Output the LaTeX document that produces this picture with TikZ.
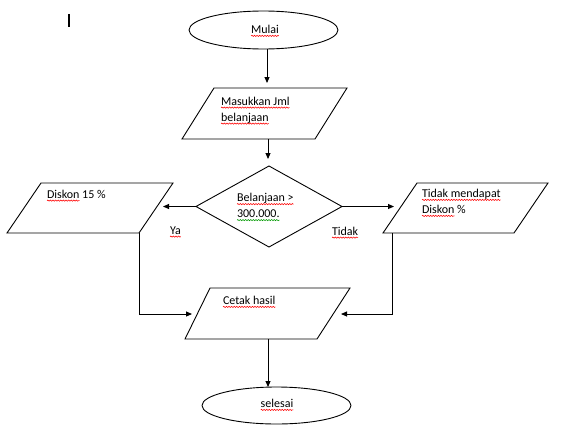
\documentclass[tikz,border=0pt]{standalone}
\usepackage{fontspec}
\setmainfont{Carlito}
\usetikzlibrary{shapes.geometric,arrows.meta,decorations.pathmorphing}
\newcommand\lblfont{\fontsize{12}{16}\selectfont}
% word widths, measured once the fonts are ready
\newcommand\mkw[2]{\expandafter\newlength\csname sqw#1\endcsname
  \settowidth{\csname sqw#1\endcsname}{\lblfont #2}}
\AtBeginDocument{%
  \mkw{masuk}{Masukkan Jml}\mkw{belj}{belanjaan}%
  \mkw{bel}{Belanjaan >}\mkw{num}{300.000.}\mkw{disk}{Diskon}%
  \mkw{tdm}{Tidak mendapat}}
\tikzset{sq/.style={line width=0.55pt,decorate,decoration={snake,amplitude=0.6pt,segment length=2.6pt}}}
% squiggle under a word: colour, x, baseline y, width name
\newcommand\squig[4]{%
  \draw[#1,sq] (#2,#3+2.6) -- ++(\the\csname sqw#4\endcsname,0);}
% squiggle under a whole one-line node
\newcommand\squign[2]{%
  \draw[#1,sq] ([yshift=-2.6pt]#2.base west) -- ([yshift=-2.6pt]#2.base east);}
\begin{document}
\begin{tikzpicture}[x=1pt,y=-1pt,
  every node/.style={inner sep=0pt,outer sep=0pt},
  shp/.style={draw=black,line width=0.9pt},
  term/.style={shp,ellipse,minimum width=149pt,minimum height=38pt},
  dec/.style={shp,diamond,minimum width=146pt,minimum height=81pt},
  io/.style={shp,line join=miter},
  arr/.style={draw=black,line width=0.9pt,-{Triangle[length=6pt,width=5pt]}},
  txt/.style={font=\lblfont,align=left}]
\useasboundingbox (0,0) rectangle (561,436);
% text cursor mark
\draw[line width=1.8pt] (69,14) -- (69,27);

% Mulai
\node[term] (start) at (263.5,30) {};
\node[txt,anchor=base] (tstart) at (265,33.3) {Mulai};

% input
\coordinate (inTL) at (214,88);
\coordinate (inTR) at (347,88);
\coordinate (inBR) at (315,139);
\coordinate (inBL) at (182,139);
\draw[io] (inTL) -- (inTR) -- (inBR) -- (inBL) -- cycle;
\node[txt,anchor=base west] (tin) at (221,121) {Masukkan Jml\\belanjaan};

% decision
\node[dec] (cond) at (269,206.5) {};
\node[txt,anchor=base west] (tcond) at (237,217.5) {Belanjaan >\\300.000.};

% Diskon 15 %
\coordinate (dkTL) at (41,183);
\coordinate (dkTR) at (173,183);
\coordinate (dkBR) at (139,233);
\coordinate (dkBL) at (7,233);
\draw[io] (dkTL) -- (dkTR) -- (dkBR) -- (dkBL) -- cycle;
\node[txt,anchor=base west] (tdk) at (47,198) {Diskon 15 \%};

% Tidak mendapat
\coordinate (ndTL) at (417,183);
\coordinate (ndTR) at (548,183);
\coordinate (ndBR) at (514,233);
\coordinate (ndBL) at (383,233);
\draw[io] (ndTL) -- (ndTR) -- (ndBR) -- (ndBL) -- cycle;
\node[txt,anchor=base west] (tnd) at (422,213.3) {Tidak mendapat\\Diskon \%};

% Cetak hasil
\coordinate (ctTL) at (210,288);
\coordinate (ctTR) at (350,288);
\coordinate (ctBR) at (317,339);
\coordinate (ctBL) at (185,339);
\draw[io] (ctTL) -- (ctTR) -- (ctBR) -- (ctBL) -- cycle;
\node[txt,anchor=base west] (tct) at (223,304.3) {Cetak hasil};

% selesai
\node[term,minimum height=37pt] (stop) at (276.5,405.5) {};
\node[txt,anchor=base] (tstop) at (277,407.3) {selesai};

% labels
\node[txt,anchor=base west] (lya) at (170,234) {Ya};
\node[txt,anchor=base west] (ltd) at (332,235) {Tidak};

% spelling squiggles
\squign{red}{tstart}
\squig{red}{221}{105}{masuk}
\squig{red}{221}{121}{belj}
\squig{red}{237}{201.5}{bel}
\squig{green!60!black}{237}{217.5}{num}
\squig{red}{47}{198}{disk}
\squig{red}{422}{197.3}{tdm}
\squig{red}{422}{213.3}{disk}
\squign{red}{tct}
\squign{red}{tstop}
\squign{red}{lya}
\squign{red}{ltd}

% connectors
\coordinate (a1) at (267,83);
\draw[arr] (start.south -| a1) -- (a1);
\coordinate (a2) at (268,159);
\draw[arr] (inBL -| a2) -- (a2);
\coordinate (a3) at (163,206.5);
\draw[arr] (cond.west) -- (a3);
\coordinate (a4) at (394,206.5);
\draw[arr] (cond.east) -- (a4);
\coordinate (a5) at (192,314);
\draw[arr] (dkBR) |- (a5);
\coordinate (ndB) at (392,233);
\coordinate (a6) at (341,314);
\draw[arr] (ndB) |- (a6);
\coordinate (a7) at (268,339);
\draw[arr] (a7) -- (a7 |- stop.north);
\end{tikzpicture}
\end{document}
